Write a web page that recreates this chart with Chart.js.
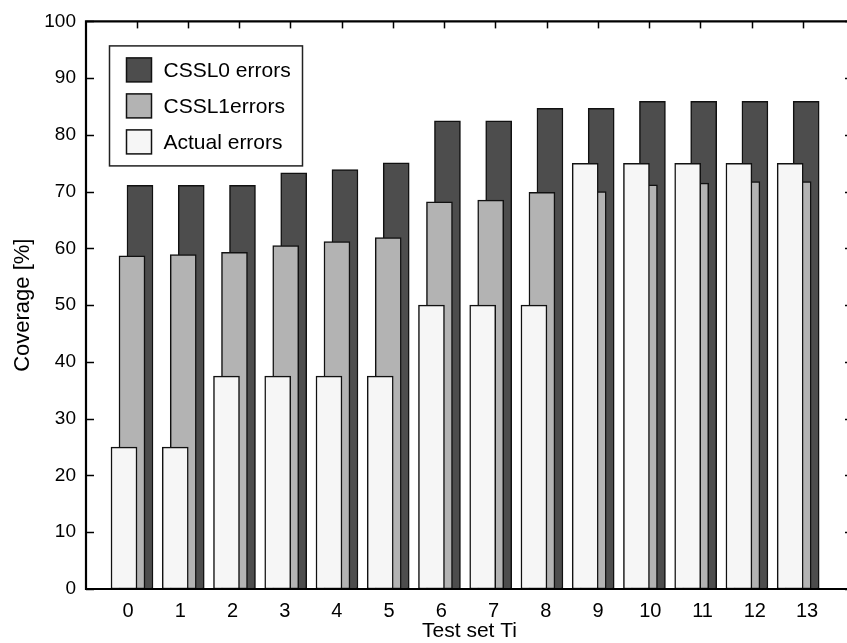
<!DOCTYPE html>
<html><head><meta charset="utf-8">
<script src="https://cdn.jsdelivr.net/npm/chart.js@4.4.1/dist/chart.umd.min.js"></script>
<style>html,body{margin:0;padding:0;background:#fff;overflow:hidden;width:847px;height:643px}canvas{display:block}</style>
</head><body>
<canvas id="c" width="870" height="643"></canvas>
<script>
// ---- data ----
const testSets = [0,1,2,3,4,5,6,7,8,9,10,11,12,13];
const tickLabels = ['0','1','2','3','4','5','6','7','8','9','10','11','12','13'];
const yTickValues = [0,10,20,30,40,50,60,70,80,90,100];
const seriesNames = ['CSSL0 errors','CSSL1errors','Actual errors'];
const cssl0Errors = [71.1,71.1,71.1,73.3,73.9,75.1,82.5,82.5,84.7,84.7,85.9,85.9,85.9,85.9];
const cssl1Errors = [58.7,58.9,59.3,60.5,61.2,61.9,68.2,68.5,69.9,70.0,71.2,71.5,71.8,71.8];
const actualErrors = [25,25,37.5,37.5,37.5,37.5,50,50,50,75,75,75,75,75];

// ---- style ----
const FONT = "'Liberation Sans', Arial, Helvetica, sans-serif";
const NARROW = "'Liberation Sans Narrow', 'Arial Narrow', 'Liberation Sans', Arial, sans-serif";
const colors = ['#4d4d4d','#b3b3b3','#f6f6f6'];
const barOffsets = [0.156, 0, -0.156];
const drawOrder = [3, 2, 1];
const topTickOffset = 0.09;

Chart.defaults.font.family = FONT;
Chart.defaults.color = '#000';

const seriesValues = [cssl0Errors, cssl1Errors, actualErrors];
const datasets = seriesValues.map((vals, k) => ({
  label: seriesNames[k],
  data: vals.map((v, i) => ({x: testSets[i] + barOffsets[k], y: v})),
  backgroundColor: colors[k],
  borderColor: '#111',
  borderWidth: 1.5,
  borderSkipped: false,
  barThickness: 26,
  grouped: false,
  order: drawOrder[k],
  xAxisID: 'xBars',
  yAxisID: 'y'
}));

const framePlugin = {
  id: 'frame',
  afterDatasetsDraw(chart) {
    const {ctx, chartArea: a, scales} = chart;
    ctx.save();
    ctx.strokeStyle = '#000';
    ctx.lineWidth = 1.5;
    yTickValues.forEach(v => {
      const py = Math.round(scales.y.getPixelForValue(v)) + 0.5;
      ctx.beginPath(); ctx.moveTo(a.left, py); ctx.lineTo(a.left + 8, py); ctx.stroke();
      ctx.beginPath(); ctx.moveTo(a.right - 8, py); ctx.lineTo(a.right, py); ctx.stroke();
    });
    testSets.forEach(t => {
      const px = Math.round(scales.xBars.getPixelForValue(t + topTickOffset)) + 0.5;
      ctx.beginPath(); ctx.moveTo(px, a.top); ctx.lineTo(px, a.top + 7); ctx.stroke();
    });
    ctx.lineWidth = 2.2;
    ctx.beginPath();
    ctx.moveTo(a.left, a.top); ctx.lineTo(a.right, a.top); ctx.lineTo(a.right, a.bottom);
    ctx.lineTo(a.left, a.bottom); ctx.closePath(); ctx.stroke();
    ctx.restore();
  },
  afterDraw(chart) {
    const {ctx, chartArea: a} = chart;
    const bx = a.left + 23.5, by = a.top + 24.5, bw = 193, bh = 120;
    ctx.save();
    ctx.fillStyle = '#fff';
    ctx.fillRect(bx, by, bw, bh);
    ctx.strokeStyle = '#222';
    ctx.lineWidth = 1.5;
    ctx.strokeRect(bx, by, bw, bh);
    ctx.font = '21px ' + FONT;
    ctx.textBaseline = 'middle';
    ctx.textAlign = 'left';
    chart.data.datasets.forEach((ds, k) => {
      const sy = by + 12 + k * 36;
      ctx.fillStyle = ds.backgroundColor;
      ctx.fillRect(bx + 17, sy, 25, 24);
      ctx.strokeStyle = '#111';
      ctx.strokeRect(bx + 17, sy, 25, 24);
      ctx.fillStyle = '#000';
      ctx.fillText(ds.label, bx + 54, sy + 13);
    });
    ctx.restore();
  }
};

new Chart(document.getElementById('c'), {
  type: 'bar',
  data: { datasets },
  options: {
    responsive: false,
    animation: false,
    devicePixelRatio: 1,
    layout: { padding: { top: 13, right: 17, bottom: 0, left: 0 } },
    plugins: { legend: { display: false }, tooltip: { enabled: false } },
    scales: {
      x: {
        type: 'linear', position: 'bottom', offset: false,
        min: -0.804, max: 13.88,
        grid: { display: false, drawTicks: false },
        border: { display: false },
        ticks: {
          stepSize: 1, includeBounds: false, autoSkip: false, maxRotation: 0,
          padding: 10, color: '#000', font: { size: 20, family: FONT },
          callback: (v) => (tickLabels[v] !== undefined ? tickLabels[v] : '')
        },
        title: { display: true, text: 'Test set Ti', color: '#000', font: { size: 21, family: FONT, lineHeight: 1.1 }, padding: 0 },
        afterFit(s) { s.height = 54; }
      },
      xBars: {
        type: 'linear', display: false, offset: false,
        min: -0.8976, max: 14.07
      },
      y: {
        type: 'linear', position: 'left', min: 0, max: 100,
        grid: { display: false, drawTicks: false },
        border: { display: false },
        ticks: { stepSize: 10, padding: 10, color: '#000', font: { size: 19, family: NARROW } },
        title: { display: true, text: 'Coverage [%]', color: '#000', font: { size: 22, family: FONT, lineHeight: 1.1 }, padding: { top: 11, bottom: 0 } },
        afterFit(s) { s.width = 86; }
      }
    }
  },
  plugins: [framePlugin]
});
</script>
</body></html>
